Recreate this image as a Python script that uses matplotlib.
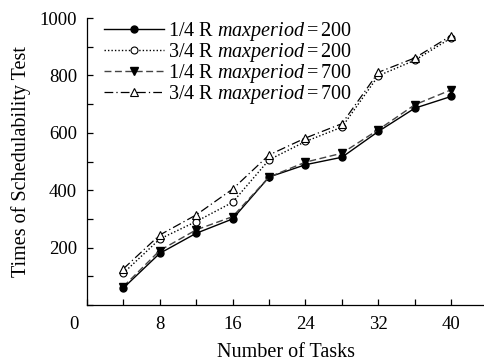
import matplotlib
matplotlib.use("Agg")
import matplotlib.pyplot as plt
from matplotlib.ticker import MultipleLocator

plt.rcParams['font.family'] = 'Liberation Serif'
plt.rcParams['mathtext.fontset'] = 'custom'
plt.rcParams['mathtext.rm'] = 'Liberation Serif'
plt.rcParams['mathtext.it'] = 'Liberation Serif:italic'

# number of tasks
tasks = [4, 8, 12, 16, 20, 24, 28, 32, 36, 40]

# times of schedulability test per configuration
r14_p200 = [59, 180, 250, 300, 446, 489, 515, 605, 686, 727]
r34_p200 = [111, 230, 291, 358, 506, 570, 620, 799, 853, 931]
r14_p700 = [64, 190, 262, 308, 446, 498, 529, 611, 698, 750]
r34_p700 = [126, 244, 314, 404, 523, 582, 632, 811, 861, 939]

labels = [r"1/4 R $\mathit{maxperiod}=200$",
          r"3/4 R $\mathit{maxperiod}=200$",
          r"1/4 R $\mathit{maxperiod}=700$",
          r"3/4 R $\mathit{maxperiod}=700$"]

fig = plt.figure(figsize=(4.85, 3.61), dpi=100)
ax = fig.add_axes([0.179, 0.155, 0.821, 0.795])

ax.plot(tasks, r14_p200, color='black', lw=1.0, ls='-', marker='o',
        ms=5, mfc='black', label=labels[0])
ax.plot(tasks, r34_p200, color='black', lw=1.0, ls=(0, (1, 1.5)), marker='o',
        ms=5, mfc='white', mew=0.8, label=labels[1])
ax.plot(tasks, r14_p700, color='#444444', lw=1.0, ls=(0, (5, 2.5)), marker='v',
        ms=5.5, mfc='black', mec='black', label=labels[2])
ax.plot(tasks, r34_p700, color='black', lw=0.9, ls=(0, (7, 2.5, 1, 2.5)), marker='^',
        ms=5.5, mfc='white', mew=0.8, label=labels[3])

ax.set_xlim(0, 43.7)
ax.set_ylim(0, 1000)
ax.xaxis.set_minor_locator(MultipleLocator(4))
ax.yaxis.set_minor_locator(MultipleLocator(100))
ax.set_xticks([8, 16, 24, 32, 40])
ax.set_yticks([200, 400, 600, 800, 1000])
ax.tick_params(which='both', direction='in', length=4, width=0.9, labelsize=13.5)
ax.tick_params(axis='x', pad=8)
ax.tick_params(axis='y', pad=7)
# origin label sits left of the corner, level with the x tick labels
ax.annotate('0', xy=(0, 0), xytext=(-9, -8), textcoords='offset points',
            fontsize=13.5, ha='center', va='top')

for side in ('top', 'right'):
    ax.spines[side].set_visible(False)
for side in ('left', 'bottom'):
    ax.spines[side].set_linewidth(0.9)

ax.set_xlabel('Number of Tasks', fontsize=14.5, labelpad=7)
ax.set_ylabel('Times of Schedulability Test', fontsize=14.5, labelpad=6)

ax.legend(loc='upper left', frameon=False, fontsize=14.5, handlelength=3.0,
          handletextpad=0.2, labelspacing=-0.09, borderaxespad=0.0,
          bbox_to_anchor=(0.022, 1.022))

fig.savefig('out.png', dpi=100)
